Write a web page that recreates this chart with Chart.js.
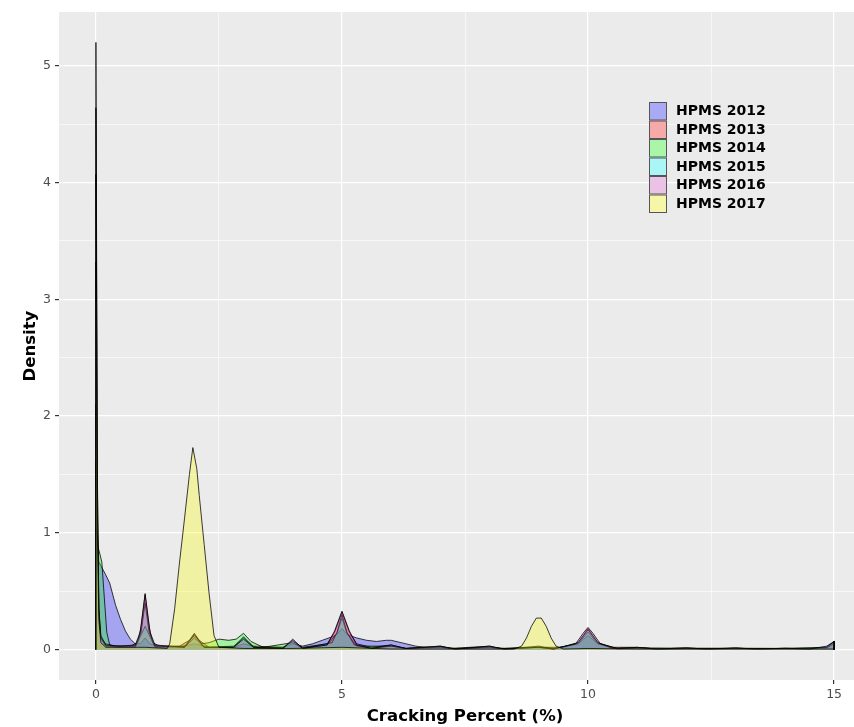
<!DOCTYPE html>
<html>
<head>
<meta charset="utf-8">
<script src="https://cdn.jsdelivr.net/npm/chart.js@4.4.1/dist/chart.umd.min.js"></script>
<style>
  html, body { margin: 0; padding: 0; background: #fff; overflow: hidden; }
  #wrap { width: 880px; height: 727px; position: relative; }
</style>
</head>
<body>
<div id="wrap"><canvas id="densityChart"></canvas></div>
<script>
  // cracking percent (x) and density (y) pairs
  const seriesLabels = ['HPMS 2012', 'HPMS 2013', 'HPMS 2014', 'HPMS 2015', 'HPMS 2016', 'HPMS 2017'];

  const hpms2012 = [[0,0],[0,2.1],[0.03,1.0],[0.06,0.75],[0.1,0.72],[0.2,0.64],[0.28,0.57],[0.4,0.38],[0.5,0.26],[0.6,0.16],[0.7,0.09],[0.8,0.05],[0.9,0.05],[1.0,0.1],[1.1,0.05],[1.3,0.02],[1.7,0.02],[2.0,0.05],[2.3,0.02],[2.8,0.02],[3.0,0.05],[3.3,0.02],[3.8,0.02],[4.0,0.05],[4.2,0.03],[4.4,0.05],[4.6,0.08],[4.8,0.11],[4.9,0.13],[5.0,0.18],[5.1,0.13],[5.3,0.1],[5.5,0.08],[5.7,0.07],[5.9,0.08],[6.0,0.08],[6.2,0.06],[6.5,0.03],[6.8,0.015],[7.0,0.025],[7.3,0.01],[8.0,0.02],[8.3,0.01],[9.0,0.02],[9.3,0.01],[9.8,0.05],[10.0,0.12],[10.2,0.05],[10.6,0.01],[11.0,0.015],[11.5,0.005],[12,0.01],[12.5,0.005],[13,0.012],[13.5,0.005],[14,0.01],[14.5,0.008],[14.85,0.02],[15,0.06],[15,0]];
  const hpms2013 = [[0,0],[0,4.07],[0.03,1.2],[0.06,0.3],[0.1,0.1],[0.2,0.05],[0.4,0.03],[0.7,0.03],[0.85,0.06],[0.92,0.2],[1.0,0.47],[1.08,0.2],[1.15,0.06],[1.3,0.03],[1.7,0.03],[1.9,0.08],[2.0,0.14],[2.1,0.08],[2.3,0.02],[2.8,0.03],[3.0,0.1],[3.2,0.03],[3.8,0.02],[4.0,0.07],[4.2,0.02],[4.7,0.05],[4.85,0.15],[5.0,0.32],[5.15,0.15],[5.3,0.05],[5.6,0.02],[6.0,0.04],[6.3,0.01],[7.0,0.03],[7.2,0.01],[8.0,0.03],[8.2,0.01],[9.0,0.02],[9.5,0.02],[9.8,0.06],[10.0,0.18],[10.2,0.06],[10.5,0.02],[11.0,0.02],[11.4,0.005],[12,0.015],[12.4,0.005],[13,0.012],[13.5,0.005],[14,0.012],[14.5,0.005],[14.85,0.02],[15,0.07],[15,0]];
  const hpms2014 = [[0,0],[0,1.6],[0.03,0.9],[0.08,0.82],[0.12,0.75],[0.17,0.45],[0.22,0.15],[0.28,0.04],[0.4,0.02],[0.8,0.02],[1.0,0.2],[1.2,0.02],[1.8,0.03],[2.0,0.12],[2.15,0.05],[2.3,0.06],[2.5,0.09],[2.7,0.08],[2.85,0.09],[3.0,0.14],[3.15,0.07],[3.4,0.02],[4.0,0.06],[4.2,0.01],[4.7,0.04],[4.9,0.14],[5.0,0.27],[5.1,0.14],[5.3,0.03],[6.0,0.03],[6.3,0.01],[7,0.02],[7.3,0.005],[8,0.02],[8.3,0.005],[9,0.03],[9.3,0.005],[9.8,0.05],[10,0.15],[10.2,0.05],[10.6,0.005],[11,0.015],[11.4,0.005],[12,0.01],[13,0.01],[14,0.01],[14.85,0.015],[15,0.05],[15,0]];
  const hpms2015 = [[0,0],[0,5.2],[0.03,1.5],[0.06,0.35],[0.1,0.1],[0.2,0.03],[0.8,0.03],[0.92,0.15],[1.0,0.4],[1.08,0.15],[1.2,0.03],[1.8,0.02],[2.0,0.1],[2.2,0.02],[2.8,0.02],[3.0,0.11],[3.2,0.02],[3.8,0.01],[4.0,0.08],[4.2,0.01],[4.8,0.06],[4.9,0.15],[5.0,0.3],[5.1,0.15],[5.25,0.04],[5.6,0.01],[6.0,0.03],[6.3,0.01],[7,0.025],[7.3,0.005],[8,0.025],[8.3,0.005],[9,0.02],[9.3,0.005],[9.8,0.06],[10,0.17],[10.2,0.06],[10.5,0.01],[11,0.015],[12,0.012],[13,0.012],[14,0.01],[14.85,0.02],[15,0.07],[15,0]];
  const hpms2016 = [[0,0],[0,4.64],[0.03,1.4],[0.06,0.35],[0.1,0.12],[0.2,0.04],[0.5,0.03],[0.8,0.04],[0.9,0.15],[1.0,0.48],[1.1,0.15],[1.2,0.04],[1.8,0.02],[2.0,0.13],[2.2,0.02],[2.8,0.02],[3.0,0.09],[3.2,0.02],[3.8,0.01],[4.0,0.09],[4.2,0.01],[4.7,0.04],[4.85,0.16],[5.0,0.33],[5.15,0.16],[5.3,0.04],[5.6,0.01],[6.0,0.04],[6.3,0.01],[7,0.03],[7.3,0.005],[8,0.03],[8.3,0.005],[9,0.02],[9.3,0.005],[9.75,0.05],[9.9,0.14],[10,0.19],[10.1,0.14],[10.25,0.05],[10.6,0.01],[11,0.02],[11.4,0.005],[12,0.015],[12.4,0.005],[13,0.015],[13.4,0.005],[14,0.012],[14.5,0.005],[14.85,0.03],[15,0.07],[15,0]];
  const hpms2017 = [[0,0],[0,3.32],[0.03,1.0],[0.06,0.25],[0.1,0.06],[0.2,0.02],[1.0,0.02],[1.45,0.01],[1.5,0.05],[1.6,0.35],[1.7,0.75],[1.8,1.12],[1.9,1.5],[1.97,1.73],[2.05,1.55],[2.1,1.32],[2.2,0.9],[2.3,0.48],[2.4,0.12],[2.5,0.02],[3.0,0.01],[4.0,0.01],[5.0,0.02],[6.0,0.005],[8.5,0.005],[8.65,0.03],[8.75,0.1],[8.85,0.2],[8.95,0.27],[9.05,0.27],[9.15,0.2],[9.25,0.1],[9.35,0.03],[9.5,0.005],[10,0.01],[11,0.005],[15,0.005],[15,0]];

  const seriesData = [hpms2012, hpms2013, hpms2014, hpms2015, hpms2016, hpms2017];
  const fillColors = ['rgba(0,0,255,0.3)', 'rgba(255,0,0,0.3)', 'rgba(0,255,0,0.3)', 'rgba(0,255,255,0.3)', 'rgba(220,80,200,0.3)', 'rgba(255,255,0,0.3)'];

  const xMajor = [0, 5, 10, 15];
  const xMinor = [2.5, 7.5, 12.5];
  const yMajor = [0, 1, 2, 3, 4, 5];
  const yMinor = [0.5, 1.5, 2.5, 3.5, 4.5];

  const panelBg = {
    id: 'panelBg',
    beforeDraw(chart) {
      const { ctx, chartArea: a } = chart;
      ctx.save();
      ctx.fillStyle = '#EBEBEB';
      ctx.fillRect(a.left, a.top, a.right - a.left, a.bottom - a.top);
      ctx.restore();
    }
  };

  // ggplot-style legend inside the panel
  const insideLegend = {
    id: 'insideLegend',
    afterDraw(chart) {
      const ctx = chart.ctx;
      const x0 = 649, y0 = 102, kw = 18, kh = 18.5;
      ctx.save();
      chart.data.datasets.forEach((ds, i) => {
        const y = y0 + i * kh;
        ctx.fillStyle = '#F2F2F2';
        ctx.fillRect(x0, y, kw, kh);
        ctx.fillStyle = ds.backgroundColor;
        ctx.fillRect(x0, y, kw, kh);
        ctx.strokeStyle = '#555';
        ctx.lineWidth = 1;
        ctx.strokeRect(x0 + 0.5, y + 0.5, kw - 1, kh - 1);
        ctx.fillStyle = '#000';
        ctx.font = 'bold 14px "DejaVu Sans"';
        ctx.textBaseline = 'middle';
        ctx.fillText(ds.label, x0 + kw + 9, y + kh / 2 + 0.5);
      });
      ctx.restore();
    }
  };

  const tickFont = { family: '"DejaVu Sans"', size: 12.5 };
  const titleFont = { family: '"DejaVu Sans"', size: 16.5, weight: 'bold' };

  new Chart(document.getElementById('densityChart').getContext('2d'), {
    type: 'scatter',
    data: {
      datasets: seriesData.map((pts, i) => ({
        label: seriesLabels[i],
        data: pts.map(p => ({ x: p[0], y: p[1] })),
        showLine: true,
        fill: 'origin',
        tension: 0,
        pointRadius: 0,
        backgroundColor: fillColors[i],
        borderColor: 'rgba(0,0,0,0.85)',
        borderWidth: 0.9,
        order: seriesLabels.length - i
      }))
    },
    options: {
      responsive: true,
      maintainAspectRatio: false,
      animation: false,
      layout: { padding: { top: 12, right: 9, left: 0, bottom: 0 } },
      plugins: { legend: { display: false }, tooltip: { enabled: false } },
      scales: {
        x: {
          type: 'linear',
          min: -0.75,
          max: 15.75,
          afterBuildTicks: s => { s.ticks = xMajor.concat(xMinor).sort((a, b) => a - b).map(v => ({ value: v })); },
          afterFit: s => { s.height = 47; },
          border: { display: false },
          grid: {
            color: '#FFFFFF',
            lineWidth: c => xMajor.includes(c.tick.value) ? 1.2 : 0.6,
            tickLength: 4,
            tickColor: c => xMajor.includes(c.tick.value) ? '#333333' : 'rgba(0,0,0,0)'
          },
          ticks: {
            autoSkip: false,
            maxRotation: 0,
            padding: 3,
            color: '#4D4D4D',
            font: tickFont,
            callback: v => xMajor.includes(v) ? String(v) : ''
          },
          title: { display: true, text: 'Cracking Percent (%)', color: '#000', font: titleFont, padding: { top: 0, bottom: 0 } }
        },
        y: {
          type: 'linear',
          min: -0.26,
          max: 5.46,
          afterBuildTicks: s => { s.ticks = yMajor.concat(yMinor).sort((a, b) => a - b).map(v => ({ value: v })); },
          afterFit: s => { s.width = 59; },
          border: { display: false },
          grid: {
            color: '#FFFFFF',
            lineWidth: c => yMajor.includes(c.tick.value) ? 1.2 : 0.6,
            tickLength: 4,
            tickColor: c => yMajor.includes(c.tick.value) ? '#333333' : 'rgba(0,0,0,0)'
          },
          ticks: {
            autoSkip: false,
            padding: 4,
            color: '#4D4D4D',
            font: tickFont,
            callback: v => yMajor.includes(v) ? String(v) : ''
          },
          title: { display: true, text: 'Density', color: '#000', font: titleFont, padding: { top: 21, bottom: 0 } }
        }
      }
    },
    plugins: [panelBg, insideLegend]
  });
</script>
</body>
</html>
